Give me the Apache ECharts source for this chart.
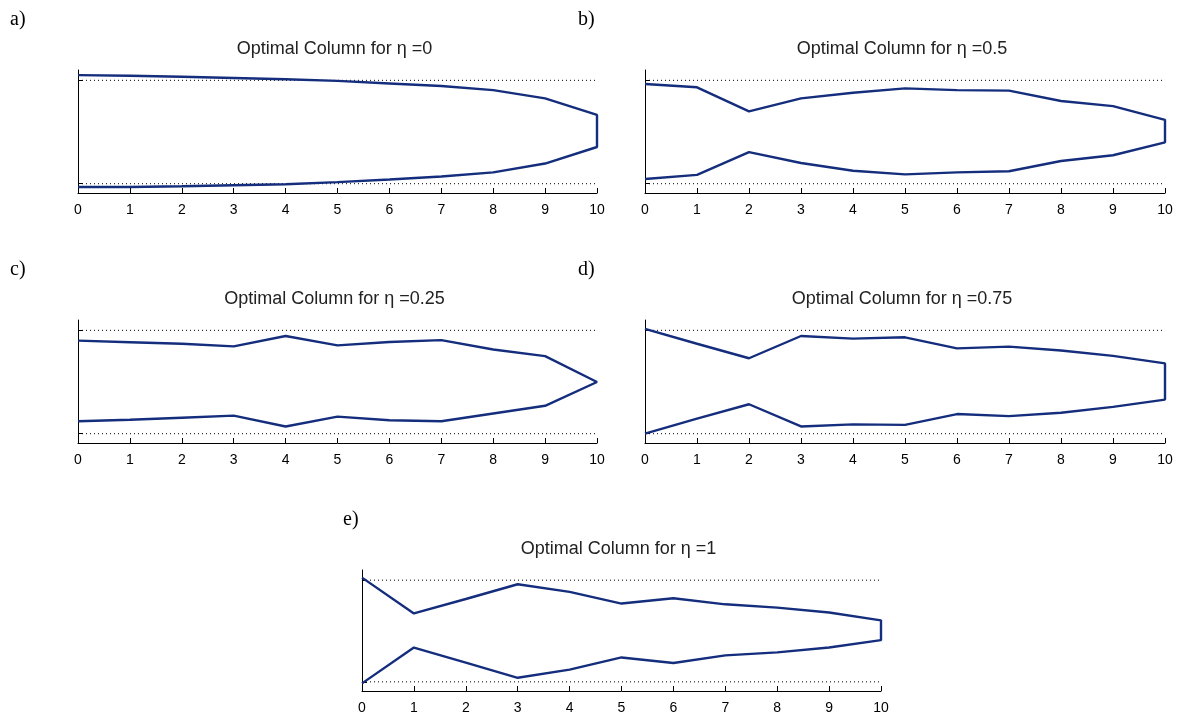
<!DOCTYPE html>
<html>
<head>
<meta charset="utf-8">
<script src="https://cdn.jsdelivr.net/npm/echarts@6/dist/echarts.min.js"></script>
<style>html,body{margin:0;padding:0;background:#fff;}#c{width:1178px;height:715px;}</style>
</head>
<body>
<div id="c"></div>
<script>
// ---- data ----
const xPositions = [0, 1, 2, 3, 4, 5, 6, 7, 8, 9, 10];
const xTickLabels = ['0','1','2','3','4','5','6','7','8','9','10'];
const panelLabels = ['a)', 'b)', 'c)', 'd)', 'e)'];
const panelTitles = ['Optimal Column for η =0', 'Optimal Column for η =0.5', 'Optimal Column for η =0.25', 'Optimal Column for η =0.75', 'Optimal Column for η =1'];
const boundLevels = [1, -1];

const upperA = [1.10, 1.09, 1.07, 1.045, 1.02, 0.99, 0.94, 0.89, 0.81, 0.65, 0.33];
const lowerA = [-1.065, -1.065, -1.05, -1.03, -1.01, -0.97, -0.92, -0.86, -0.78, -0.61, -0.29];

const upperB = [0.93, 0.865, 0.40, 0.65, 0.76, 0.845, 0.81, 0.80, 0.60, 0.50, 0.235];
const lowerB = [-0.91, -0.83, -0.39, -0.60, -0.75, -0.82, -0.78, -0.76, -0.56, -0.45, -0.20];

const upperC = [0.80, 0.77, 0.74, 0.69, 0.89, 0.71, 0.775, 0.81, 0.63, 0.50, 0.0];
const lowerC = [-0.76, -0.73, -0.69, -0.65, -0.86, -0.67, -0.74, -0.76, -0.61, -0.46, 0.0];

const upperD = [1.03, 0.74, 0.46, 0.89, 0.84, 0.865, 0.65, 0.685, 0.61, 0.505, 0.36];
const lowerD = [-1.0, -0.71, -0.43, -0.86, -0.82, -0.83, -0.62, -0.66, -0.595, -0.48, -0.34];

const upperE = [1.05, 0.345, 0.63, 0.92, 0.77, 0.54, 0.645, 0.525, 0.46, 0.365, 0.21];
const lowerE = [-1.03, -0.325, -0.62, -0.92, -0.76, -0.52, -0.63, -0.48, -0.42, -0.325, -0.18];

const uppers = [upperA, upperB, upperC, upperD, upperE];
const lowers = [lowerA, lowerB, lowerC, lowerD, lowerE];

// ---- layout ----
const grids = [
  {left: 78, top: 70, width: 519, height: 123},
  {left: 645, top: 70, width: 520, height: 123},
  {left: 78, top: 320, width: 519, height: 123},
  {left: 645, top: 320, width: 520, height: 123},
  {left: 362, top: 570, width: 519, height: 123}
];
const labelPos = [[10, 10], [578, 10], [10, 260], [578, 260], [343, 510]];

const lineColor = '#142d7c';
const option = {
  animation: false,
  backgroundColor: '#fff',
  title: [],
  grid: [],
  xAxis: [],
  yAxis: [],
  series: []
};

grids.forEach((g, i) => {
  option.grid.push({left: g.left, top: g.top, width: g.width, height: g.height});
  option.title.push({
    text: panelTitles[i],
    left: g.left + g.width / 2 - 3,
    top: g.top - 30,
    padding: 0,
    textAlign: 'center',
    textStyle: {fontFamily: 'Liberation Sans', fontSize: 18, fontWeight: 'normal', color: '#222'}
  });
  option.title.push({
    text: panelLabels[i],
    left: labelPos[i][0],
    top: labelPos[i][1],
    padding: 0,
    textStyle: {fontFamily: 'Liberation Serif', fontSize: 20, fontWeight: 'normal', color: '#000'}
  });
  option.xAxis.push({
    type: 'value', gridIndex: i, min: 0, max: 10, interval: 1,
    axisLine: {show: true, onZero: false, lineStyle: {color: '#000', width: 1}},
    axisTick: {show: true, inside: true, length: 5, lineStyle: {color: '#000'}},
    axisLabel: {
      color: '#000', fontFamily: 'Liberation Sans', fontSize: 14, margin: 10,
      formatter: v => xTickLabels[xPositions.indexOf(v)] ?? ''
    },
    splitLine: {show: false}
  });
  option.yAxis.push({
    type: 'value', gridIndex: i, min: -1.18, max: 1.2,
    axisLine: {show: true, onZero: false, lineStyle: {color: '#000', width: 1}},
    axisTick: {show: true, inside: true, length: 5, customValues: boundLevels, lineStyle: {color: '#000'}},
    axisLabel: {show: false},
    splitLine: {show: false}
  });
  // dotted bound lines
  boundLevels.forEach(b => {
    option.series.push({
      type: 'line', xAxisIndex: i, yAxisIndex: i, silent: true, symbol: 'none',
      data: [[xPositions[0], b], [xPositions[xPositions.length - 1], b]],
      lineStyle: {color: '#000', width: 1, type: [1, 3]}
    });
  });
  // column outline: upper edge left->right, then lower edge right->left
  const data = [];
  xPositions.forEach((x, k) => data.push([x, uppers[i][k]]));
  for (let k = xPositions.length - 1; k >= 0; k--) data.push([xPositions[k], lowers[i][k]]);
  option.series.push({
    type: 'line', xAxisIndex: i, yAxisIndex: i, silent: true, symbol: 'none',
    data: data,
    lineStyle: {color: lineColor, width: 2.4}
  });
});

const chart = echarts.init(document.getElementById('c'), null, {renderer: 'canvas'});
chart.setOption(option);
</script>
</body>
</html>
